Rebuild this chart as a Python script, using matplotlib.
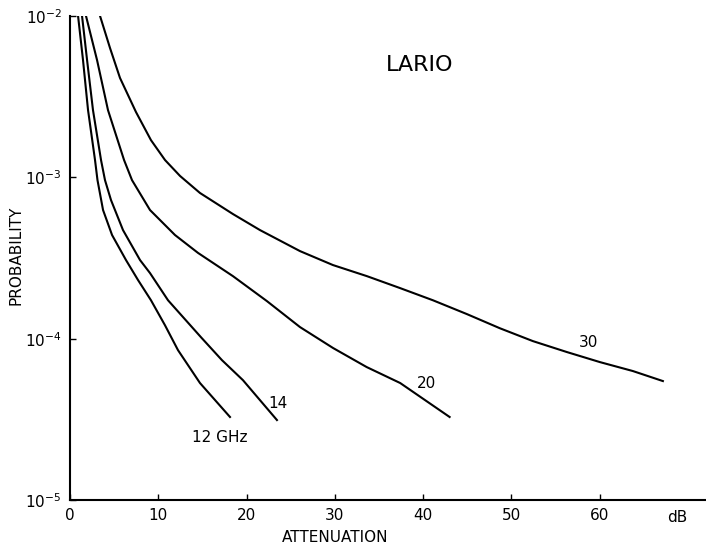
import matplotlib
matplotlib.use("Agg")
from matplotlib import pyplot as plt
import numpy as np

# attenuation (dB) and probability
att_12 = [0.91, 1.47, 2.04, 2.83, 3.11, 3.74, 4.76, 6.34, 7.70, 9.17, 10.76, 12.23, 14.72, 18.12]
p_12 = [1.0e-2, 5.33e-3, 2.61e-3, 1.28e-3, 9.61e-4, 6.27e-4, 4.39e-4, 3.07e-4, 2.31e-4, 1.73e-4,
        1.21e-4, 8.49e-5, 5.31e-5, 3.27e-5]

att_14 = [1.36, 1.93, 2.60, 3.51, 3.96, 4.64, 6.00, 7.93, 9.06, 11.1, 14.84, 17.21, 19.59, 23.44]
p_14 = [1.0e-2, 5.33e-3, 2.61e-3, 1.28e-3, 9.61e-4, 7.23e-4, 4.71e-4, 3.07e-4, 2.55e-4, 1.73e-4,
        1.02e-4, 7.36e-5, 5.53e-5, 3.13e-5]

att_20 = [1.81, 3.06, 4.30, 6.12, 7.02, 9.06, 11.89, 14.5, 18.46, 22.3, 26.05, 29.8, 33.6, 37.4, 43.0]
p_20 = [1.0e-2, 5.33e-3, 2.61e-3, 1.28e-3, 9.61e-4, 6.27e-4, 4.39e-4, 3.40e-4, 2.44e-4, 1.71e-4,
        1.18e-4, 8.75e-5, 6.67e-5, 5.31e-5, 3.27e-5]

att_30 = [3.40, 4.53, 5.66, 7.47, 9.17, 10.76, 12.46, 14.72, 18.46, 21.52, 26.05, 29.78, 33.64,
          37.37, 41.11, 44.96, 48.70, 52.43, 56.29, 60.02, 63.76, 67.16]
p_30 = [1.0e-2, 6.33e-3, 4.13e-3, 2.54e-3, 1.70e-3, 1.28e-3, 1.02e-3, 8.0e-4, 5.92e-4, 4.71e-4,
        3.49e-4, 2.86e-4, 2.44e-4, 2.06e-4, 1.73e-4, 1.42e-4, 1.16e-4, 9.66e-5, 8.26e-5, 7.16e-5,
        6.30e-5, 5.46e-5]

x_ticks = [0, 10, 20, 30, 40, 50, 60]
y_ticks = [1e-5, 1e-4, 1e-3, 1e-2]
y_labels = ["10$^{-5}$", "10$^{-4}$", "10$^{-3}$", "10$^{-2}$"]

plt.rcParams['font.family'] = ['DejaVu Sans']

fig = plt.figure(figsize=(7.06, 5.5), dpi=100)
ax = fig.add_axes([0.0992, 0.0909, 0.899, 0.88])

for xs, ps in [(att_12, p_12), (att_14, p_14), (att_20, p_20), (att_30, p_30)]:
    ax.plot(xs, ps, color="black", lw=1.5, solid_joinstyle="round")

ax.set_yscale("log")
ax.set_xlim(0, 71.9)
ax.set_ylim(1e-5, 1e-2)

ax.set_xticks(x_ticks)
ax.set_yticks(y_ticks)
ax.set_yticklabels(y_labels)
ax.minorticks_off()
ax.tick_params(direction="in", length=4, width=1, labelsize=11, pad=6)

ax.spines["top"].set_visible(False)
ax.spines["right"].set_visible(False)
ax.spines["left"].set_linewidth(1.5)
ax.spines["bottom"].set_linewidth(1.5)

ax.set_xlabel("ATTENUATION", fontsize=11)
ax.xaxis.set_label_coords(0.417, -0.062)
ax.set_ylabel("PROBABILITY", fontsize=11)
ax.yaxis.set_label_coords(-0.074, 0.506)

ax.text(0.956, -0.037, "dB", transform=ax.transAxes, ha="center", va="center", fontsize=11)
ax.text(39.6, 5.0e-3, "LARIO", ha="center", va="center", fontsize=16)
ax.text(17.0, 2.45e-5, "12 GHz", ha="center", va="center", fontsize=11)
ax.text(23.6, 3.98e-5, "14", ha="center", va="center", fontsize=11)
ax.text(40.4, 5.3e-5, "20", ha="center", va="center", fontsize=11)
ax.text(58.7, 9.5e-5, "30", ha="center", va="center", fontsize=11)

fig.savefig("out.png", dpi=100)
